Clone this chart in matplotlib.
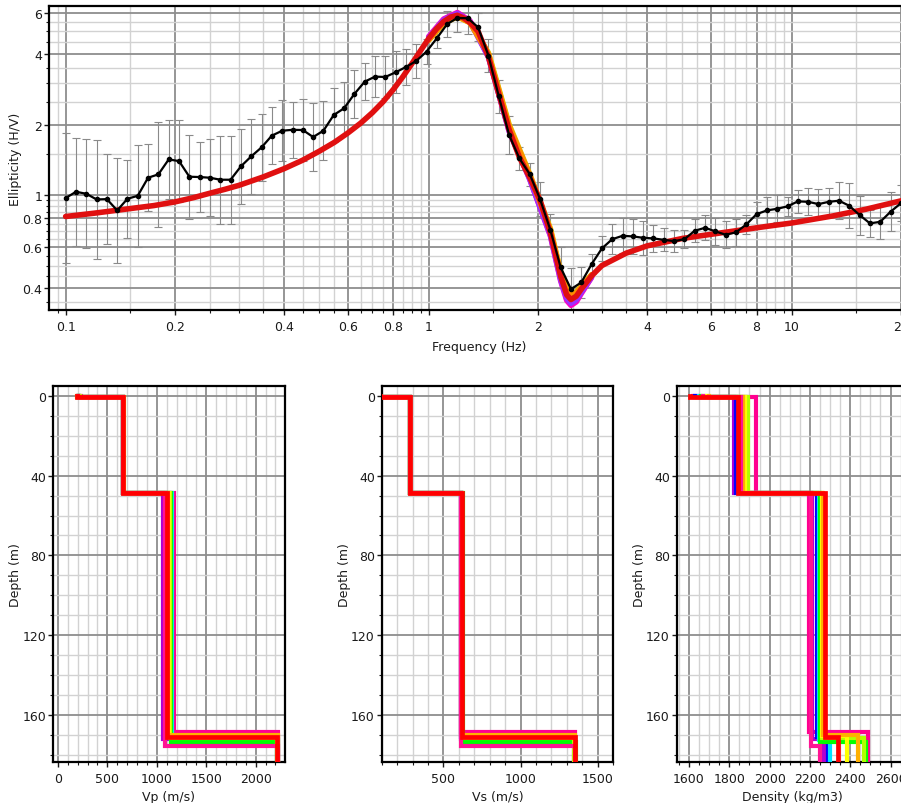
import matplotlib
matplotlib.use("Agg")
import matplotlib.pyplot as plt
from matplotlib.ticker import FixedLocator, FixedFormatter, NullFormatter
import numpy as np

plt.rcParams['font.family'] = ['DejaVu Sans']

# ---------------- Ellipticity data (measured) ----------------
freq = [0.1, 0.1068, 0.114, 0.1217, 0.1299, 0.1387, 0.148, 0.158, 0.1687, 0.1801,
        0.1923, 0.2053, 0.2192, 0.234, 0.2498, 0.2667, 0.2847, 0.3039, 0.3245, 0.3464,
        0.3698, 0.395, 0.4217, 0.4501, 0.4806, 0.513, 0.5477, 0.5847, 0.6242, 0.6664,
        0.7114, 0.7596, 0.8109, 0.8657, 0.9242, 0.9866, 1.053, 1.125, 1.2, 1.282,
        1.368, 1.461, 1.56, 1.666, 1.778, 1.898, 2.027, 2.164, 2.31, 2.466,
        2.633, 2.811, 3.001, 3.203, 3.42, 3.651, 3.898, 4.161, 4.442, 4.743,
        5.063, 5.405, 5.771, 6.161, 6.577, 7.021, 7.496, 8.002, 8.543, 9.12,
        9.737, 10.4, 11.1, 11.85, 12.65, 13.5, 14.41, 15.39, 16.43, 17.54,
        18.72, 20.0]
ell = [0.971, 1.033, 1.013, 0.958, 0.961, 0.860, 0.964, 0.993, 1.186, 1.226,
       1.42, 1.397, 1.198, 1.194, 1.186, 1.163, 1.163, 1.326, 1.463, 1.598,
       1.794, 1.883, 1.90, 1.896, 1.77, 1.883, 2.198, 2.347, 2.702, 3.05,
       3.205, 3.195, 3.344, 3.524, 3.738, 4.1, 4.673, 5.38, 5.71, 5.69,
       5.21, 3.94, 2.64, 1.805, 1.434, 1.229, 0.961, 0.709, 0.491, 0.3965,
       0.4236, 0.507, 0.592, 0.648, 0.670, 0.666, 0.657, 0.653, 0.644, 0.636,
       0.648, 0.704, 0.725, 0.70, 0.677, 0.693, 0.749, 0.829, 0.860, 0.874,
       0.895, 0.94, 0.936, 0.915, 0.936, 0.946, 0.90, 0.821, 0.757, 0.769,
       0.849, 0.924]
ell_std = [1.90, 1.70, 1.71, 1.80, 1.56, 1.68, 1.47, 1.65, 1.39, 1.67,
           1.47, 1.50, 1.51, 1.41, 1.46, 1.54, 1.54, 1.45, 1.45, 1.39,
           1.32, 1.35, 1.32, 1.36, 1.40, 1.34, 1.31, 1.30, 1.27, 1.20,
           1.22, 1.23, 1.23, 1.19, 1.18, 1.13, 1.10, 1.14, 1.15, 1.17,
           1.15, 1.18, 1.18, 1.20, 1.12, 1.12, 1.18, 1.17, 1.22, 1.23,
           1.16, 1.10, 1.13, 1.16, 1.19, 1.19, 1.18, 1.14, 1.12, 1.11,
           1.09, 1.12, 1.13, 1.14, 1.14, 1.14, 1.10, 1.13, 1.14, 1.14,
           1.10, 1.12, 1.14, 1.16, 1.15, 1.20, 1.25, 1.21, 1.14, 1.19,
           1.21, 1.19]

# ---------------- Theoretical ellipticity (best model, red) ----------------
th_freq = [0.1, 0.12, 0.15, 0.175, 0.2, 0.225, 0.25, 0.275, 0.3, 0.35,
           0.4, 0.45, 0.5, 0.55, 0.6, 0.65, 0.7, 0.75, 0.8, 0.85,
           0.9, 0.95, 1.0, 1.05, 1.1, 1.15, 1.2, 1.25, 1.3, 1.368,
           1.461, 1.56, 1.666, 1.778, 1.898, 2.027, 2.164, 2.31, 2.4, 2.466,
           2.55, 2.633, 2.811, 3.0, 3.5, 4.0, 5.0, 6.0, 8.0, 10.0,
           13.0, 16.0, 20.0, 21.0]
th_ell = [0.81, 0.837, 0.875, 0.902, 0.935, 0.975, 1.019, 1.059, 1.10, 1.195,
          1.297, 1.41, 1.54, 1.68, 1.845, 2.03, 2.25, 2.51, 2.83, 3.21,
          3.65, 4.14, 4.66, 5.12, 5.51, 5.76, 5.86, 5.7, 5.45, 5.0,
          3.9, 2.7, 1.90, 1.45, 1.19, 0.95, 0.69, 0.45, 0.375, 0.358,
          0.37, 0.397, 0.452, 0.50, 0.565, 0.607, 0.653, 0.68, 0.725, 0.76,
          0.815, 0.87, 0.945, 0.965]

# other models near the peak / trough (mostly hidden under the red one)
mod_freq = [1.0, 1.1, 1.2, 1.3, 1.461, 1.666, 1.898, 2.164, 2.31, 2.4, 2.466, 2.55, 2.633, 2.811]
mod_pink = [4.75, 5.65, 6.02, 5.55, 3.9, 1.88, 1.17, 0.67, 0.43, 0.355, 0.338, 0.35, 0.38, 0.445]
mod_purple = [4.7, 5.6, 5.97, 5.5, 3.88, 1.87, 1.17, 0.675, 0.435, 0.362, 0.345, 0.357, 0.385, 0.447]
mod_orange = [4.6, 5.45, 5.8, 5.45, 4.0, 1.97, 1.22, 0.71, 0.465, 0.39, 0.372, 0.382, 0.405, 0.456]
mod_yellow = [4.58, 5.42, 5.78, 5.45, 4.05, 2.0, 1.23, 0.72, 0.47, 0.395, 0.377, 0.386, 0.408, 0.457]

# ---------------- Ground models (profiles) ----------------
model_colors = ['#ff0090', '#b000d0', '#0000ff', '#00e5ff', '#00ff00',
                '#b0ff00', '#ffff00', '#ffb000', '#ff1493', '#ff0000']
d0 = [0.8, 0.8, 0.8, 0.8, 0.8, 0.8, 0.8, 0.8, 0.8, 0.8]
d1 = [48.7, 48.7, 48.7, 48.7, 48.7, 48.7, 48.7, 48.7, 48.7, 48.7]
d2 = [168.3, 172.0, 171.0, 172.3, 173.4, 171.4, 170.6, 170.0, 175.3, 171.2]
vp0 = [230, 215, 205, 200, 210, 220, 200, 195, 200, 192]
vp1 = [662, 660, 661, 663, 662, 660, 664, 661, 662, 662]
vp2 = [1175, 1060, 1095, 1150, 1145, 1135, 1125, 1115, 1085, 1100]
vp3 = [2230, 2225, 2220, 2222, 2218, 2226, 2220, 2224, 2228, 2215]
vs0 = [90, 90, 90, 90, 90, 90, 90, 90, 90, 90]
vs1 = [283, 282, 284, 283, 283, 282, 284, 283, 283, 283]
vs2 = [612, 614, 616, 622, 625, 620, 619, 617, 615, 618]
vs3 = [1355, 1345, 1350, 1352, 1358, 1348, 1353, 1356, 1350, 1355]
rho0 = [1640, 1620, 1630, 1650, 1660, 1680, 1690, 1700, 1670, 1605]
rho1 = [1930, 1822, 1835, 1850, 1885, 1895, 1880, 1870, 1860, 1845]
rho2 = [2195, 2210, 2235, 2245, 2252, 2258, 2262, 2266, 2205, 2275]
rho3 = [2490, 2270, 2290, 2300, 2480, 2470, 2385, 2440, 2250, 2340]

# ---------------- Figure ----------------
W, H = 901, 804
fig = plt.figure(figsize=(W / 100, H / 100), dpi=100)

MAJ_GRID = '#8e8e8e'
MIN_GRID = '#d2d2d2'
TXT = '#1a1a1a'


def style_axes(ax, xpad=3.0):
    ax.set_axisbelow(True)
    ax.grid(which='major', color=MAJ_GRID, lw=1.3)
    ax.grid(which='minor', color=MIN_GRID, lw=1.0)
    for s in ax.spines.values():
        s.set_linewidth(1.6)
        s.set_color('black')
    ax.tick_params(which='major', direction='out', length=3.5, width=1.0,
                   labelsize=9, colors=TXT, pad=1.5)
    ax.tick_params(axis='x', which='major', pad=xpad)
    ax.tick_params(which='minor', direction='out', length=2.2, width=0.8, colors=TXT)


# --- top: ellipticity ---
x0, x1 = 49, 908.7
y0, y1 = 7, 311
ax = fig.add_axes([x0 / W, 1 - y1 / H, (x1 - x0) / W, (y1 - y0) / H])
ax.set_xscale('log')
ax.set_yscale('log')
ax.set_xlim(0.09, 21.0)
ax.set_ylim(0.323, 6.42)

xmaj = [0.1, 0.2, 0.4, 0.6, 0.8, 1, 2, 4, 6, 8, 10, 20]
xmaj_lbl = ['0.1', '0.2', '0.4', '0.6', '0.8', '1', '2', '4', '6', '8', '10', '20']
xmin = [0.095, 0.15, 0.25, 0.3, 0.35, 0.45, 0.5, 0.55, 0.65, 0.7, 0.75, 0.85, 0.9, 0.95,
        1.5, 2.5, 3, 3.5, 4.5, 5, 5.5, 6.5, 7, 7.5, 8.5, 9, 9.5, 15]
ymaj = [0.4, 0.6, 0.8, 1, 2, 4, 6]
ymaj_lbl = ['0.4', '0.6', '0.8', '1', '2', '4', '6']
ymin = [0.35, 0.45, 0.5, 0.55, 0.65, 0.7, 0.75, 0.85, 0.9, 0.95, 1.5, 2.5, 3, 3.5,
        4.5, 5, 5.5]
ax.xaxis.set_major_locator(FixedLocator(xmaj))
ax.xaxis.set_major_formatter(FixedFormatter(xmaj_lbl))
ax.xaxis.set_minor_locator(FixedLocator(xmin))
ax.xaxis.set_minor_formatter(NullFormatter())
ax.yaxis.set_major_locator(FixedLocator(ymaj))
ax.yaxis.set_major_formatter(FixedFormatter(ymaj_lbl))
ax.yaxis.set_minor_locator(FixedLocator(ymin))
ax.yaxis.set_minor_formatter(NullFormatter())
style_axes(ax, xpad=3.5)

ell_a = np.array(ell)
std_a = np.array(ell_std)
lower = ell_a - ell_a / std_a
upper = ell_a * std_a - ell_a
ax.errorbar(freq, ell, yerr=[lower, upper], fmt='none', ecolor='#8a8a8a',
            elinewidth=0.8, capsize=3, capthick=0.8, zorder=2)

for vals, col in [(mod_pink, '#ff00c0'), (mod_purple, '#9b30ff'),
                  (mod_yellow, '#d8c800'), (mod_orange, '#ff8c00')]:
    ax.plot(mod_freq, vals, color=col, lw=4.0, zorder=3,
            solid_capstyle='round', solid_joinstyle='round')
ax.plot(th_freq, th_ell, color='#e01010', lw=4.0, zorder=4,
        solid_capstyle='round', solid_joinstyle='round')

ax.plot(freq, ell, color='black', lw=1.6, marker='o', markersize=3, zorder=5)

ax.set_xlabel('Frequency (Hz)', fontsize=9, color=TXT, labelpad=5)
ax.set_ylabel('Ellipticity (H/V)', fontsize=9, color=TXT, labelpad=0)

# --- bottom: profiles ---
by0, by1 = 387, 763
bw = 231.6
bottom_depth = 190.0


def profile_path(top, mid, bot, v0, v1, v2, v3):
    xs = [v0, v0, v1, v1, v2, v2, v3, v3]
    ys = [0.0, top, top, mid, mid, bot, bot, bottom_depth]
    return xs, ys


def make_profile_axes(left, xlim, xmaj, xmin, xlabel, vals):
    a = fig.add_axes([left / W, 1 - by1 / H, bw / W, (by1 - by0) / H])
    a.set_xlim(*xlim)
    a.set_ylim(183.5, -4.9)
    a.xaxis.set_major_locator(FixedLocator(xmaj))
    a.xaxis.set_minor_locator(FixedLocator(xmin))
    a.yaxis.set_major_locator(FixedLocator([0, 40, 80, 120, 160]))
    a.yaxis.set_minor_locator(FixedLocator(list(range(10, 190, 10))))
    style_axes(a, xpad=4.0)
    v0, v1, v2, v3 = vals
    for i, c in enumerate(model_colors):
        xs, ys = profile_path(d0[i], d1[i], d2[i], v0[i], v1[i], v2[i], v3[i])
        is_best = (c == '#ff0000')
        a.plot(xs, ys, color=c, lw=3.4 if is_best else 3.0, solid_joinstyle='miter',
               zorder=4 if is_best else 3)
    a.set_xlabel(xlabel, fontsize=9, color=TXT, labelpad=3)
    a.set_ylabel('Depth (m)', fontsize=9, color=TXT, labelpad=0)
    return a


make_profile_axes(53, (-50, 2293), [0, 500, 1000, 1500, 2000],
                  list(range(0, 2300, 100)), 'Vp (m/s)', (vp0, vp1, vp2, vp3))
make_profile_axes(381.7, (100, 1601), [500, 1000, 1500],
                  list(range(100, 1700, 100)), 'Vs (m/s)', (vs0, vs1, vs2, vs3))
make_profile_axes(676.7, (1539, 2688), [1600, 1800, 2000, 2200, 2400, 2600],
                  list(range(1550, 2700, 50)), 'Density (kg/m3)', (rho0, rho1, rho2, rho3))

fig.savefig('out.png', dpi=100, facecolor='white')
